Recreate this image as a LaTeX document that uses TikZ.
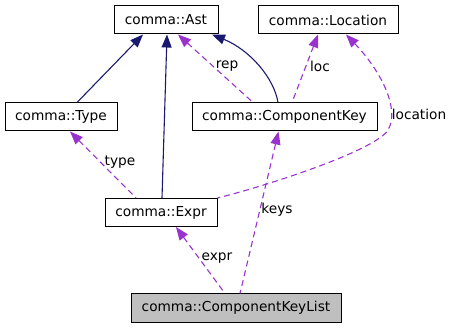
\documentclass[tikz,border=0pt]{standalone}
\usepackage{fontspec}
\setmainfont{DejaVu Sans}
\usetikzlibrary{arrows.meta}
\definecolor{navyc}{HTML}{191970}
\definecolor{purc}{HTML}{9A32CD}
\definecolor{grayc}{HTML}{BFBFBF}
\tikzset{
  cls/.style={draw=black, line width=1pt, fill=white, inner sep=0pt, minimum height=28pt, font=\fontsize{13.7}{16}\selectfont},
  inh/.style={draw=navyc, line width=1.1pt, {Triangle[length=13pt,width=10pt]}-},
  use/.style={draw=purc, line width=1.1pt, dash pattern=on 6pt off 4pt, {Triangle[length=13pt,width=10pt,fill=purc]}-},
  lbl/.style={font=\fontsize{13.7}{16}\selectfont, inner sep=0pt}
}
\begin{document}
\begin{tikzpicture}[x=1pt,y=-1pt]
\useasboundingbox (0,0) rectangle (452,328);
\node[cls, minimum width=104pt] (ast) at (166,20) {comma::Ast};
\node[cls, minimum width=140pt] (loc) at (328,20) {comma::Location};
\node[cls, minimum width=112pt] (type) at (61,117) {comma::Type};
\node[cls, minimum width=185pt] (ck) at (284.5,117) {comma::ComponentKey};
\node[cls, minimum width=112pt] (expr) at (161,212.5) {comma::Expr};
\node[cls, minimum width=210pt, fill=grayc] (ckl) at (236,308) {comma::ComponentKeyList};

\draw[inh] ([xshift=-23pt]ast.south) -- ([xshift=16pt]type.north);
\draw[inh] ([xshift=1pt]ast.south) -- ([xshift=1pt]expr.north);
\draw[inh] ([xshift=46pt]ast.south) .. controls (250,50) and (274,78) .. ([xshift=-6.5pt]ck.north);

\draw[use] ([xshift=12pt]ast.south) -- ([xshift=-31.5pt]ck.north);
\node[lbl] (lrep) at (227,66) {rep};
\draw[use] ([xshift=-10pt]loc.south) -- ([xshift=7.5pt]ck.north);
\node[lbl] (lloc) at (320,66) {loc};
\draw[use] ([xshift=18pt]loc.south) .. controls (382,72) and (400,110) .. (388,130) .. controls (376,150) and (270,185) .. (expr.north east);
\node[lbl] (llocation) at (419,114) {location};
\draw[use] ([xshift=9pt]type.south) -- ([xshift=-25pt]expr.north);
\node[lbl] (ltype) at (120,162) {type};
\draw[use] ([xshift=15pt]expr.south) -- ([xshift=-11pt]ckl.north);
\node[lbl] (lexpr) at (217,258) {expr};
\draw[use] ([xshift=-6pt]ck.south) -- ([xshift=4pt]ckl.north);
\node[lbl] (lkeys) at (277,210) {keys};
\end{tikzpicture}
\end{document}
